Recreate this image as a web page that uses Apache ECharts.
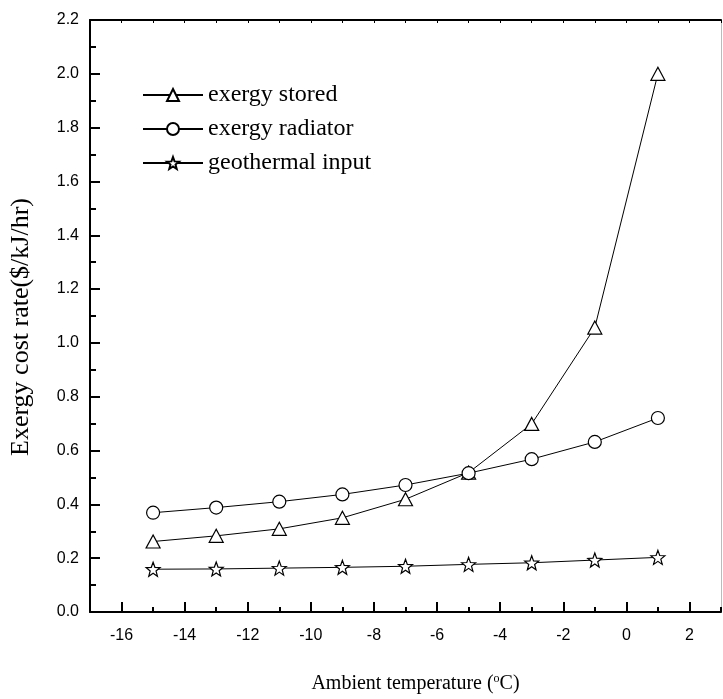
<!DOCTYPE html>
<html>
<head>
<meta charset="utf-8">
<script src="https://cdn.jsdelivr.net/npm/echarts@6/dist/echarts.min.js"></script>
<style>html,body{margin:0;padding:0;background:#fff}#c{width:723px;height:699px}</style>
</head>
<body>
<div id="c"></div>
<script>
var temps = [-15, -13, -11, -9, -7, -5, -3, -1, 1];
var exergyStored = [0.262, 0.283, 0.309, 0.350, 0.419, 0.518, 0.699, 1.057, 2.000];
var exergyRadiator = [0.369, 0.388, 0.410, 0.437, 0.472, 0.516, 0.568, 0.632, 0.721];
var geothermalInput = [0.159, 0.160, 0.163, 0.166, 0.170, 0.177, 0.183, 0.193, 0.203];
var seriesNames = ['exergy stored', 'exergy radiator', 'geothermal input'];
var xMajorTicks = [-16, -14, -12, -10, -8, -6, -4, -2, 0, 2];

function starPath() {
  var pts = [];
  for (var i = 0; i < 10; i++) {
    var r = i % 2 === 0 ? 50 : 21;
    var a = -Math.PI / 2 + i * Math.PI / 5;
    pts.push((50 + r * Math.cos(a)).toFixed(2) + ' ' + (50 + r * Math.sin(a)).toFixed(2));
  }
  return 'path://M' + pts.join(' L') + ' Z';
}

function pairs(ys) { return temps.map(function (t, i) { return [t, ys[i]]; }); }

var serif = 'Liberation Serif, Times New Roman, serif';
var sans = 'Liberation Sans, Arial, sans-serif';
var markerStyle = { color: '#fff', borderColor: '#000', borderWidth: 1.2 };

var chart = echarts.init(document.getElementById('c'), null, { renderer: 'canvas' });
chart.setOption({
  backgroundColor: '#fff',
  animation: false,
  grid: { left: 88, right: 2, top: 20, bottom: 87 },
  legend: {
    orient: 'vertical', left: 142, top: 83, padding: 0, itemWidth: 60, itemHeight: 15, itemGap: 10,
    data: seriesNames,
    textStyle: { fontFamily: serif, fontSize: 24, color: '#000' }
  },
  xAxis: [
    {
      type: 'value', min: -17, max: 3, interval: 1, position: 'bottom',
      axisLine: { show: true, onZero: false, lineStyle: { color: '#000', width: 2 } },
      axisTick: { show: true, inside: true, length: 10, customValues: xMajorTicks, lineStyle: { color: '#000', width: 2 } },
      axisLabel: { customValues: xMajorTicks, margin: 16, fontFamily: sans, fontSize: 16, color: '#000' },
      splitLine: { show: false },
      name: 'Ambient temperature ({s|o}C)', nameLocation: 'middle', nameGap: 61,
      nameTextStyle: { fontFamily: serif, fontSize: 20, color: '#000', padding: [0, 0, 0, 20], rich: { s: { fontFamily: serif, fontSize: 12, verticalAlign: 'top', padding: [0, 0, 10, 0] } } }
    },
    {
      type: 'value', min: -17, max: 3, interval: 1, position: 'bottom',
      axisLine: { show: false },
      axisTick: { show: true, inside: true, length: 5, lineStyle: { color: '#000', width: 2 } },
      axisLabel: { show: false }, splitLine: { show: false }
    },
    {
      type: 'value', min: -17, max: 3, interval: 1, position: 'top',
      axisLine: { show: true, onZero: false, lineStyle: { color: '#000', width: 2 } },
      axisTick: { show: true, inside: true, length: 3, lineStyle: { color: '#000', width: 1 } },
      axisLabel: { show: false }, splitLine: { show: false }
    }
  ],
  yAxis: [
    {
      type: 'value', min: 0, max: 2.2, interval: 0.2, position: 'left',
      axisLine: { show: true, onZero: false, lineStyle: { color: '#000', width: 2 } },
      axisTick: { show: true, inside: true, length: 10, lineStyle: { color: '#000', width: 2 } },
      minorTick: { show: true, splitNumber: 2, length: 6, lineStyle: { color: '#000', width: 2 } },
      axisLabel: { margin: 11, fontFamily: sans, fontSize: 16, color: '#000', formatter: function (v) { return v.toFixed(1); } },
      splitLine: { show: false },
      name: 'Exergy cost rate($/kJ/hr)', nameLocation: 'middle', nameGap: 56,
      nameTextStyle: { fontFamily: serif, fontSize: 26, color: '#000', padding: [0, 22, 0, 0] }
    },
    {
      type: 'value', min: 0, max: 2.2, position: 'right',
      axisLine: { show: true, onZero: false, lineStyle: { color: '#bbb', width: 1 } },
      axisTick: { show: false }, axisLabel: { show: false }, splitLine: { show: false }
    }
  ],
  series: [
    {
      name: seriesNames[0], type: 'line', data: pairs(exergyStored),
      symbol: 'triangle', symbolSize: [14, 13], showAllSymbol: true,
      lineStyle: { color: '#000', width: 1 }, itemStyle: markerStyle, z: 3
    },
    {
      name: seriesNames[1], type: 'line', data: pairs(exergyRadiator),
      symbol: 'circle', symbolSize: 13, showAllSymbol: true,
      lineStyle: { color: '#000', width: 1 }, itemStyle: markerStyle, z: 4
    },
    {
      name: seriesNames[2], type: 'line', data: pairs(geothermalInput),
      symbol: starPath(), symbolSize: 14, showAllSymbol: true,
      lineStyle: { color: '#000', width: 1 }, itemStyle: markerStyle, z: 5
    }
  ]
});
</script>
</body>
</html>
